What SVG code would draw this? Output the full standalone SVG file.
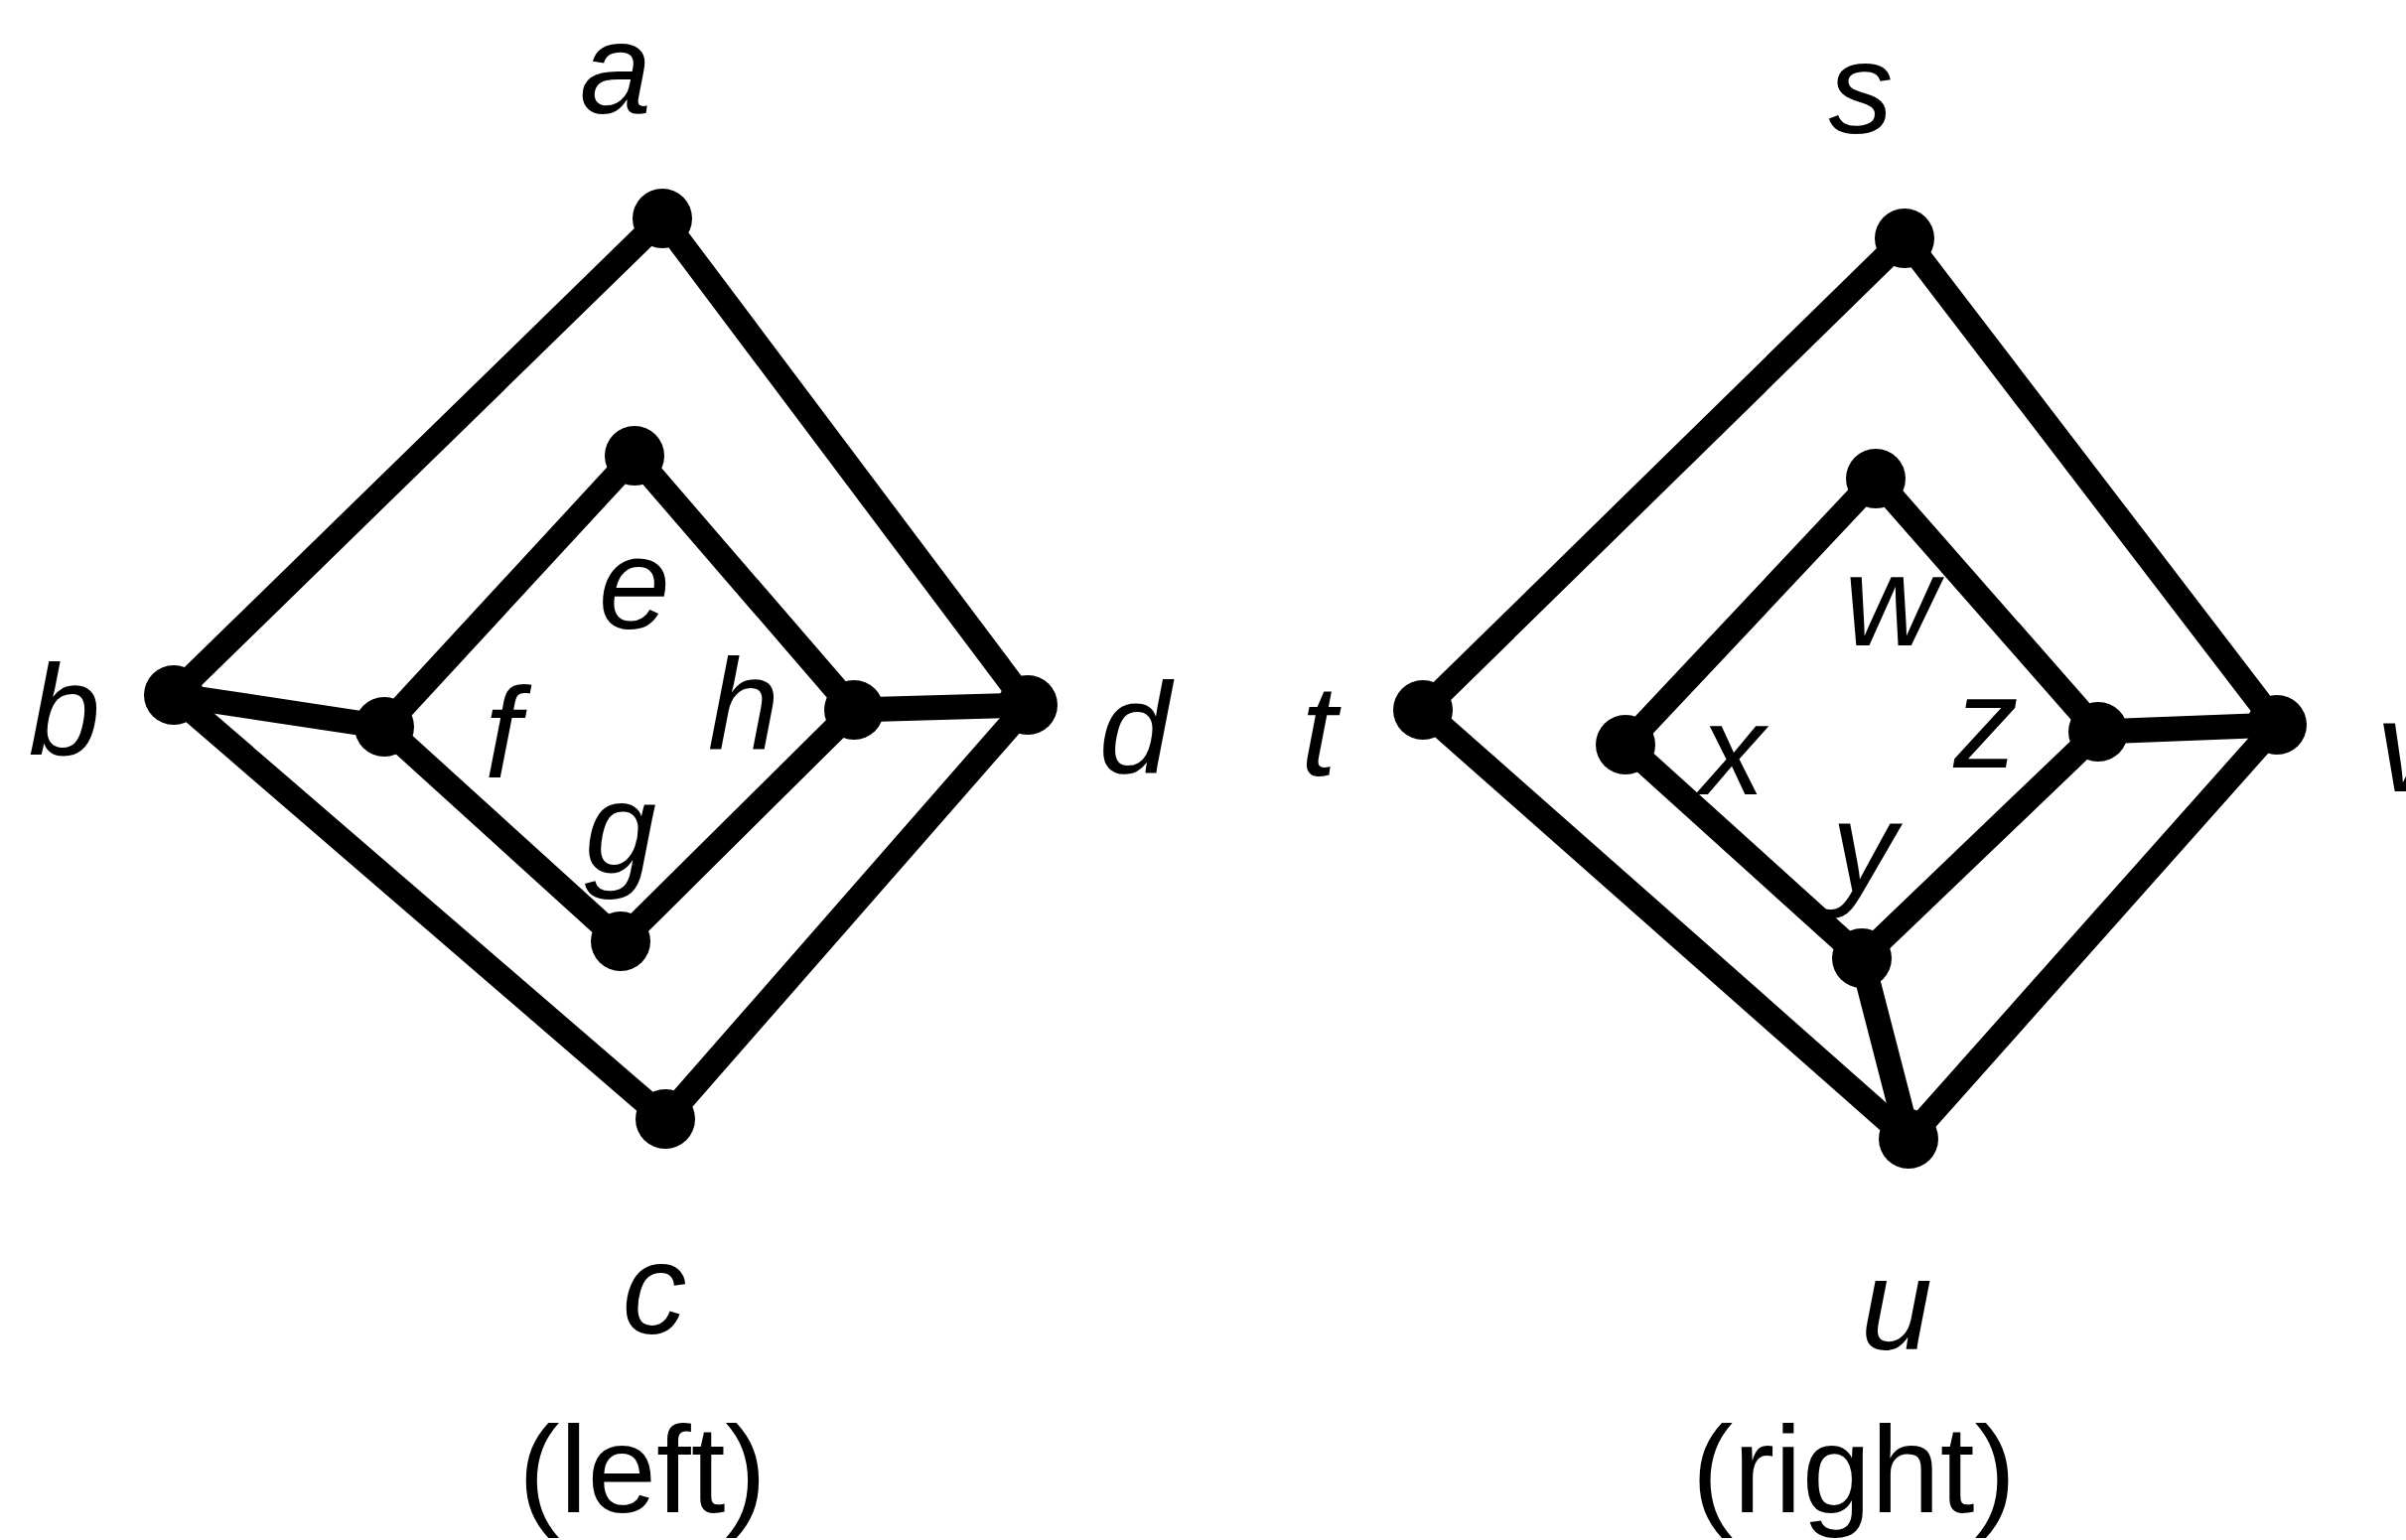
<svg xmlns="http://www.w3.org/2000/svg" width="2423" height="1551" viewBox="0 0 2423 1551">
<style>
.e{stroke:#000;stroke-width:25;stroke-linecap:round;fill:none}
.n{fill:#000}
.l{font-family:"Liberation Sans",Arial,sans-serif;font-style:italic;font-size:130px;fill:#000;text-anchor:middle}
.c{font-family:"Liberation Sans",Arial,sans-serif;font-size:125px;fill:#000;text-anchor:middle}
</style>
<rect width="2423" height="1551" fill="#fff"/>
<g id="connectors">
<line class="e" x1="667" y1="220" x2="175" y2="700"/>
<line class="e" x1="667" y1="220" x2="1035" y2="710"/>
<line class="e" x1="175" y1="700" x2="670" y2="1127"/>
<line class="e" x1="1035" y1="710" x2="670" y2="1127"/>
<line class="e" x1="175" y1="700" x2="387" y2="732"/>
<line class="e" x1="1035" y1="710" x2="860" y2="715"/>
<line class="e" x1="639" y1="459" x2="387" y2="732"/>
<line class="e" x1="639" y1="459" x2="860" y2="715"/>
<line class="e" x1="387" y1="732" x2="625" y2="948"/>
<line class="e" x1="860" y1="715" x2="625" y2="948"/>
<line class="e" x1="1918" y1="240" x2="1433" y2="715"/>
<line class="e" x1="1918" y1="240" x2="2293" y2="730"/>
<line class="e" x1="1433" y1="715" x2="1922" y2="1147"/>
<line class="e" x1="2293" y1="730" x2="1922" y2="1147"/>
<line class="e" x1="1889" y1="482" x2="1637" y2="750"/>
<line class="e" x1="1889" y1="482" x2="2113" y2="737"/>
<line class="e" x1="1637" y1="750" x2="1875" y2="965"/>
<line class="e" x1="2113" y1="737" x2="1875" y2="965"/>
<line class="e" x1="2113" y1="737" x2="2293" y2="730"/>
<line class="e" x1="1875" y1="965" x2="1922" y2="1147"/>
</g>
<g id="node-a"><circle class="n" cx="667" cy="220" r="30"/><text class="l" x="620" y="114">a</text></g>
<g id="node-b"><circle class="n" cx="175" cy="700" r="30"/><text class="l" x="65" y="760">b</text></g>
<g id="node-c"><circle class="n" cx="670" cy="1127" r="30"/><text class="l" x="659" y="1343">c</text></g>
<g id="node-d"><circle class="n" cx="1035" cy="710" r="30"/><text class="l" x="1143" y="778">d</text></g>
<g id="node-e"><circle class="n" cx="639" cy="459" r="30"/><text class="l" x="639" y="633">e</text></g>
<g id="node-f"><circle class="n" cx="387" cy="732" r="30"/><text class="l" x="506" y="783">f</text></g>
<g id="node-g"><circle class="n" cx="625" cy="948" r="30"/><text class="l" x="625" y="879">g</text></g>
<g id="node-h"><circle class="n" cx="860" cy="715" r="30"/><text class="l" x="749" y="754">h</text></g>
<g id="node-s"><circle class="n" cx="1918" cy="240" r="30"/><text class="l" x="1874" y="134">s</text></g>
<g id="node-t"><circle class="n" cx="1433" cy="715" r="30"/><text class="l" x="1328" y="781">t</text></g>
<g id="node-u"><circle class="n" cx="1922" cy="1147" r="30"/><text class="l" x="1910" y="1359">u</text></g>
<g id="node-v"><circle class="n" cx="2293" cy="730" r="30"/><text class="l" x="2393" y="797" style="text-anchor:start">v</text></g>
<g id="node-w"><circle class="n" cx="1889" cy="482" r="30"/><text class="l" x="1904" y="650">w</text></g>
<g id="node-x"><circle class="n" cx="1637" cy="750" r="30"/><text class="l" x="1745" y="800">x</text></g>
<g id="node-y"><circle class="n" cx="1875" cy="965" r="30"/><text class="l" x="1877" y="898">y</text></g>
<g id="node-z"><circle class="n" cx="2113" cy="737" r="30"/><text class="l" x="2000" y="773">z</text></g>
<text class="c" x="647" y="1523">(left)</text>
<text class="c" x="1867" y="1523">(right)</text>
</svg>
